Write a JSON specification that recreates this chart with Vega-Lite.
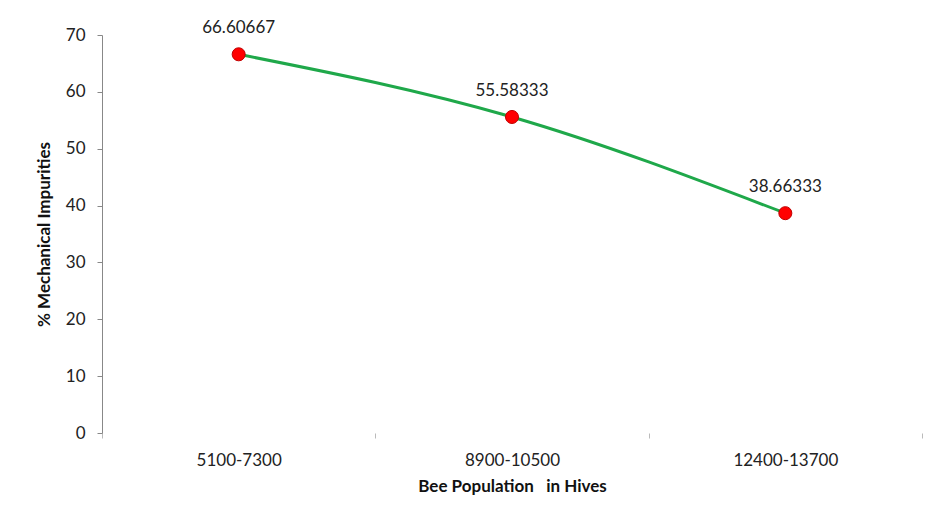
{
  "$schema": "https://vega.github.io/schema/vega-lite/v6.json",
  "width": 820,
  "height": 398,
  "autosize": {"type": "none"},
  "padding": {"left": 102, "top": 35, "right": 12, "bottom": 88},
  "background": "white",
  "config": {
    "view": {"stroke": null},
    "font": "Lato",
    "axis": {"labelFont": "Lato", "titleFont": "Lato", "labelColor": "#222", "titleColor": "#111", "grid": false}
  },
  "data": {
    "values": [
      {"population": "5100-7300", "impurities": 66.60667, "label": "66.60667"},
      {"population": "8900-10500", "impurities": 55.58333, "label": "55.58333"},
      {"population": "12400-13700", "impurities": 38.66333, "label": "38.66333"}
    ]
  },
  "encoding": {
    "x": {
      "field": "population",
      "type": "nominal",
      "sort": null,
      "scale": {"paddingInner": 0, "paddingOuter": 0},
      "axis": {
        "title": "Bee Population \u00a0 in Hives",
        "titleFontWeight": "bold",
        "titleFontSize": 17,
        "titlePadding": 10,
        "labelAngle": 0,
        "labelFontSize": 17,
        "labelPadding": 14,
        "domain": false,
        "tickBand": "extent",
        "tickSize": 5,
        "tickColor": "#bbbbbb"
      }
    },
    "y": {
      "field": "impurities",
      "type": "quantitative",
      "scale": {"domain": [0, 70], "nice": false},
      "axis": {
        "title": "% Mechanical Impurities",
        "titleFontWeight": "bold",
        "titleFontSize": 17,
        "titlePadding": 12,
        "values": [0, 10, 20, 30, 40, 50, 60, 70],
        "labelFontSize": 17,
        "labelPadding": 12,
        "tickSize": 5,
        "domainColor": "#888888",
        "tickColor": "#888888"
      }
    }
  },
  "layer": [
    {
      "mark": {"type": "line", "interpolate": "monotone", "color": "#1fa84a", "strokeWidth": 3}
    },
    {
      "mark": {"type": "point", "filled": true, "shape": "circle", "size": 170, "color": "#ff0000", "stroke": "#c00000", "strokeWidth": 1, "opacity": 1}
    },
    {
      "mark": {"type": "text", "dy": -26, "fontSize": 17, "color": "#222222", "font": "Lato"},
      "encoding": {"text": {"field": "label"}}
    }
  ]
}
